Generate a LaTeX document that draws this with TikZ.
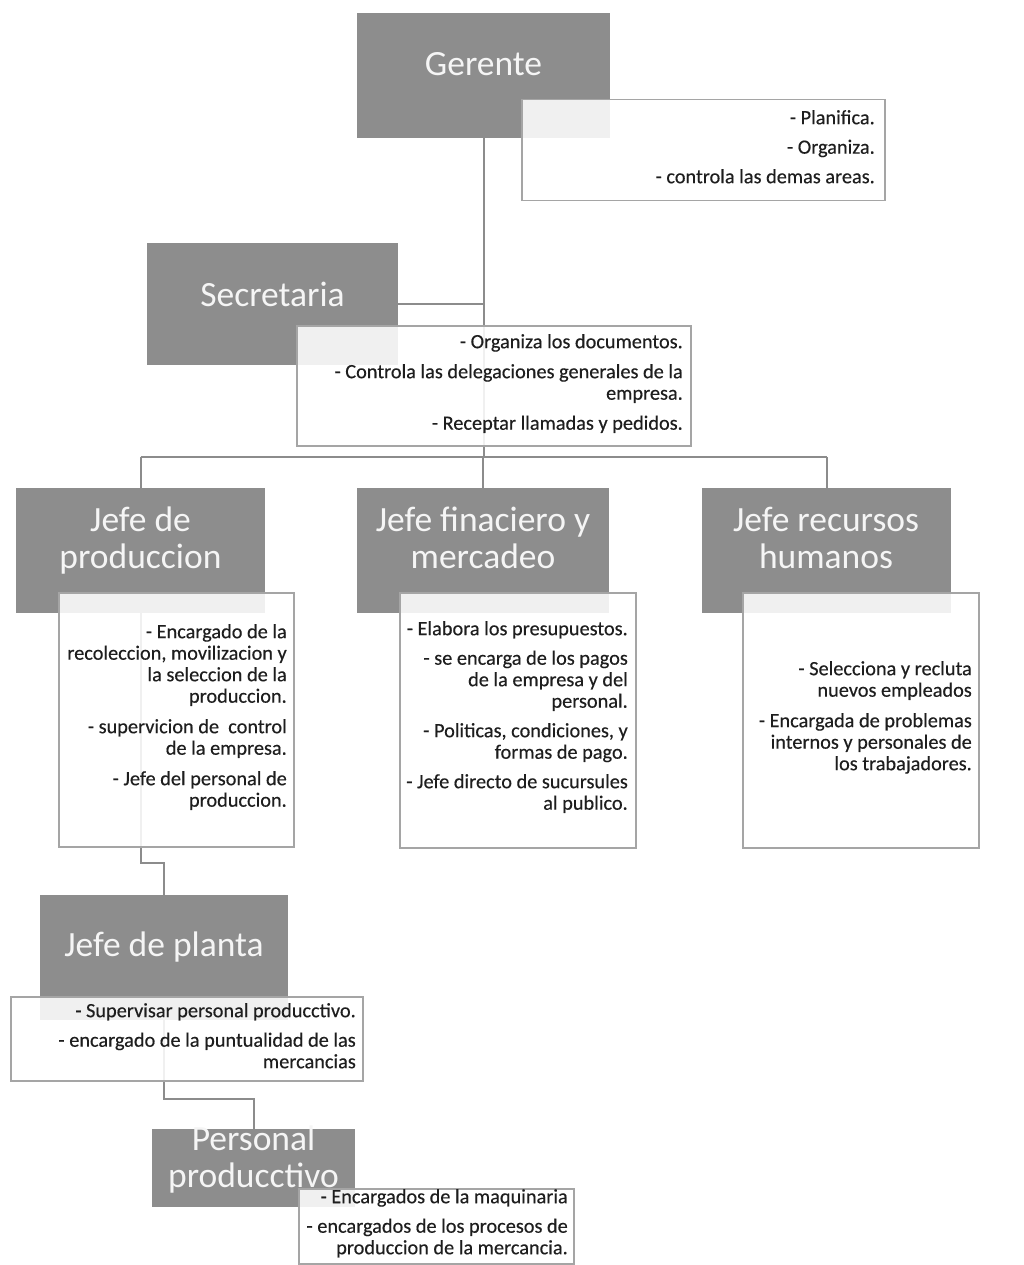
\documentclass[tikz,border=0pt]{standalone}
\usepackage{fontspec}
\setmainfont{Carlito}
\newfontfamily\descfont{Carlito}[FakeBold=0.35]
\usetikzlibrary{calc}
\definecolor{boxgray}{RGB}{141,141,141}
\definecolor{linegray}{RGB}{140,140,140}
\definecolor{bordergray}{RGB}{165,165,165}
\definecolor{desctext}{RGB}{30,30,30}
\definecolor{titlewhite}{RGB}{245,245,245}
\pgfdeclarelayer{bg}
\pgfsetlayers{bg,main}
\begin{document}
\begin{tikzpicture}[x=1pt,y=-1pt,
  graybox/.style={draw=none, fill=boxgray, inner sep=0pt, anchor=north west},
  descbox/.style={draw=bordergray, line width=1.5pt, fill=white, fill opacity=0.87, inner sep=0pt, anchor=north west},
  titletext/.style={text=titlewhite, font=\fontsize{35.5}{37}\selectfont, align=center, inner sep=0pt, anchor=north},
  desctxt/.style={text=desctext, font=\descfont\fontsize{20.3}{21.5}\selectfont, align=right, inner sep=0pt, anchor=north east},
  conn/.style={draw=linegray, line width=2.2pt}
]
\useasboundingbox (0,0) rectangle (1024,1265);
% gray boxes
\node[graybox, minimum width=253pt, minimum height=125pt] (g) at (357,13) {};
\node[graybox, minimum width=251pt, minimum height=122pt] (s) at (147,243) {};
\node[graybox, minimum width=249pt, minimum height=125pt] (jp) at (16,488) {};
\node[graybox, minimum width=252pt, minimum height=125pt] (jf) at (357,488) {};
\node[graybox, minimum width=249pt, minimum height=125pt] (jr) at (702,488) {};
\node[graybox, minimum width=248pt, minimum height=125pt] (jpl) at (40,895) {};
\node[graybox, minimum width=203pt, minimum height=78pt] (pp) at (152,1129) {};
% description boxes
\node[descbox, minimum width=363pt, minimum height=101pt] (gd) at (521,99) {};
\node[descbox, minimum width=394pt, minimum height=120pt] (sd) at (296,325) {};
\node[descbox, minimum width=235pt, minimum height=254pt] (jpd) at (58,592) {};
\node[descbox, minimum width=236pt, minimum height=255pt] (jfd) at (399,592) {};
\node[descbox, minimum width=236pt, minimum height=255pt] (jrd) at (742,592) {};
\node[descbox, minimum width=352pt, minimum height=84pt] (jpld) at (10,996) {};
\node[descbox, minimum width=275pt, minimum height=75pt] (ppd) at (298,1188) {};
% connectors
\coordinate (bus) at (0,457);
\coordinate (k1) at (0,863);
\coordinate (k2) at (0,1099);
\begin{pgfonlayer}{bg}
\fill[white] (0,0) rectangle (1024,1265);
\draw[conn] (g.south) -- (g.south |- bus);
\draw[conn] (s.east) -- (s.east -| g.south);
\draw[conn] (jp.north |- bus) -- (jr.north |- bus);
\draw[conn] (jp.north) -- (jp.north |- bus);
\draw[conn] (jf.north) -- (jf.north |- bus);
\draw[conn] (jr.north) -- (jr.north |- bus);
\draw[conn] (jp.south) -- (jp.south |- k1) -| (jpl.north);
\draw[conn] (jpl.south) -- (jpl.south |- k2) -| (pp.north);
\end{pgfonlayer}
% titles
\node[titletext] (tg) at (483.5,49.75) {\strut Gerente};
\node[titletext] (ts) at (272.5,280.75) {\strut Secretaria};
\node[titletext] (tjp) at (140.5,505.75) {\strut Jefe de\\produccion};
\node[titletext] (tjf) at (483,505.75) {\strut Jefe finaciero y\\mercadeo};
\node[titletext] (tjr) at (826,505.75) {\strut Jefe recursos\\humanos};
\node[titletext] (tjpl) at (164,930.75) {\strut Jefe de planta};
\node[titletext] (tpp) at (253.5,1124.75) {\strut Personal\\producctivo};
% descriptions
\node[desctxt] (dg) at (875,108.95) {\strut - Planifica.\\[8pt]- Organiza.\\[8pt]- controla las demas areas.};
\node[desctxt] (ds) at (683,332.95) {\strut - Organiza los documentos.\\[8.5pt]- Controla las delegaciones generales de la\\empresa.\\[8.5pt]- Receptar llamadas y pedidos.};
\node[desctxt] (djp) at (287,622.95) {\strut - Encargado de la\\recoleccion, movilizacion y\\la seleccion de la\\produccion.\\[9pt]- supervicion de\ \ control\\de la empresa.\\[9pt]- Jefe del personal de\\produccion.};
\node[desctxt] (djf) at (628,619.95) {\strut - Elabora los presupuestos.\\[8pt]- se encarga de los pagos\\de la empresa y del\\personal.\\[8pt]- Politicas, condiciones, y\\formas de pago.\\[8pt]- Jefe directo de sucursules\\al publico.};
\node[desctxt] (djr) at (972,659.95) {\strut - Selecciona y recluta\\nuevos empleados\\[9pt]- Encargada de problemas\\internos y personales de\\los trabajadores.};
\node[desctxt] (djpl) at (356,1001.95) {\strut - Supervisar personal producctivo.\\[8pt]- encargado de la puntualidad de las\\mercancias};
\node[desctxt] (dpp) at (568,1187.95) {\strut - Encargados de la maquinaria\\[8pt]- encargados de los procesos de\\produccion de la mercancia.};
\end{tikzpicture}
\end{document}
